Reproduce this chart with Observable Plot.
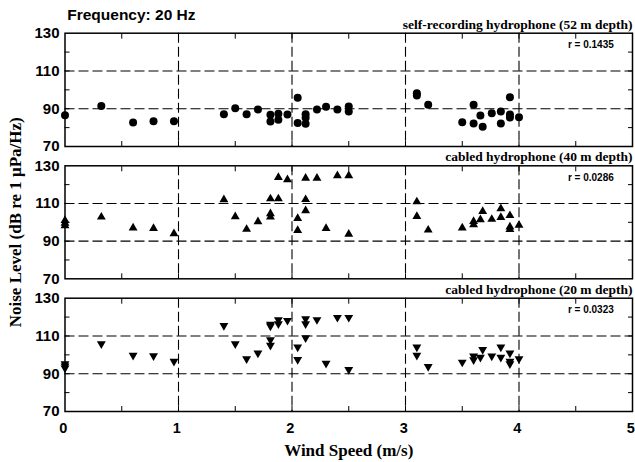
<!DOCTYPE html>
<html><head><meta charset="utf-8">
<script src="https://cdn.jsdelivr.net/npm/d3@7"></script>
<script src="https://cdn.jsdelivr.net/npm/@observablehq/plot@0.6"></script>
<style>
body{margin:0;background:#fff;}
#chart{position:relative;width:635px;height:462px;overflow:hidden;background:#fff;}
#chart svg{position:absolute;left:0;top:0;}
</style></head><body><div id="chart"></div>
<script>
const chartTitle = "Frequency: 20 Hz";
const yLabel = "Noise Level (dB re 1 μPa/Hz)";
const xLabel = "Wind Speed (m/s)";
const panelTitles = ["self-recording hydrophone (52 m depth)", "cabled hydrophone (40 m depth)", "cabled hydrophone (20 m depth)"];
const rLabels = ["r = 0.1435", "r = 0.0286", "r = 0.0323"];
const xTickLabels = [0, 1, 2, 3, 4, 5];
const yTickLabels = [70, 90, 110, 130];
const yMinorTicks = [80, 90, 100, 110, 120];
const xMinorTicks = [0.5, 1, 1.5, 2, 2.5, 3, 3.5, 4, 4.5];
const xGrid = [1, 2, 3, 4];
const yGrid = [90, 110];

// self-recording hydrophone (52 m) – circles
const wind52 = [0, 0.32, 0.60, 0.78, 0.96, 1.40, 1.50, 1.60, 1.70, 1.81, 1.81, 1.88, 1.88, 1.96, 2.05, 2.05, 2.12, 2.12, 2.12, 2.22, 2.30, 2.40, 2.50, 2.50, 3.10, 3.10, 3.20, 3.50, 3.60, 3.60, 3.66, 3.68, 3.76, 3.84, 3.84, 3.92, 3.92, 3.92, 4.00];
const level52 = [86.6, 91.5, 82.7, 83.4, 83.4, 87.1, 90.3, 87.1, 89.6, 86.8, 83.2, 87.3, 84.1, 87.0, 95.8, 82.5, 87.1, 85.2, 82.0, 89.6, 91.0, 89.6, 91.2, 88.5, 98.2, 97.0, 92.1, 82.9, 92.1, 82.2, 86.4, 80.4, 87.6, 88.5, 82.2, 96.1, 86.9, 85.3, 85.5];

// cabled hydrophone (40 m) – up triangles
const wind40 = [0, 0, 0, 0.32, 0.60, 0.78, 0.96, 1.40, 1.50, 1.60, 1.70, 1.81, 1.81, 1.81, 1.88, 1.88, 1.96, 2.05, 2.05, 2.12, 2.12, 2.12, 2.22, 2.30, 2.40, 2.50, 2.50, 3.10, 3.10, 3.20, 3.50, 3.60, 3.60, 3.66, 3.68, 3.76, 3.84, 3.84, 3.92, 3.92, 3.92, 4.00];
const level40 = [101.0, 99.5, 98.2, 102.8, 97.0, 96.8, 94.0, 112.0, 103.0, 96.3, 100.3, 112.5, 104.6, 102.8, 112.5, 123.8, 122.6, 102.1, 95.7, 123.4, 112.1, 106.2, 123.4, 96.8, 124.8, 124.8, 93.7, 110.9, 103.1, 95.9, 97.0, 100.5, 98.8, 101.4, 105.8, 101.6, 107.2, 102.6, 103.6, 97.6, 96.2, 98.5];

// cabled hydrophone (20 m) – down triangles
const wind20 = [0, 0, 0, 0.32, 0.60, 0.78, 0.96, 1.40, 1.50, 1.60, 1.70, 1.81, 1.81, 1.81, 1.81, 1.88, 1.88, 1.96, 2.05, 2.05, 2.12, 2.12, 2.12, 2.22, 2.30, 2.40, 2.50, 2.50, 3.10, 3.10, 3.20, 3.50, 3.60, 3.60, 3.66, 3.68, 3.76, 3.84, 3.84, 3.92, 3.92, 3.92, 4.00];
const level20 = [95.2, 94.0, 93.0, 105.8, 99.7, 99.5, 96.6, 115.5, 105.8, 97.9, 100.9, 116.2, 115.2, 108.0, 105.0, 118.6, 116.4, 118.2, 104.1, 97.5, 119.1, 116.4, 109.0, 118.6, 95.5, 119.8, 119.8, 92.2, 104.1, 99.7, 93.8, 96.1, 99.3, 97.4, 98.7, 102.8, 99.3, 104.1, 98.7, 100.9, 96.6, 95.2, 97.9];

const SANS = "'Liberation Sans', Arial, Helvetica, sans-serif";
const SERIF = "'Liberation Serif', 'Times New Roman', Times, serif";
const W = 635, H = 462;
const frameTops = [32.7, 165.3, 297.7];
const frameBottoms = [146, 278.3, 411];

const panels = [
  {wind: wind52, level: level52, symbol: "circle", r: 4, rotate: 0},
  {wind: wind40, level: level40, symbol: "triangle", r: 3.3, rotate: 0},
  {wind: wind20, level: level20, symbol: "triangle", r: 3.3, rotate: 180}
];

const chart = document.getElementById("chart");

panels.forEach((p, i) => {
  const rows = p.wind.map((w, j) => ({wind: w, level: p.level[j]}));
  const isBottom = i === 2;
  const marks = [
    Plot.ruleX(xGrid, {stroke: "black", strokeWidth: 1.1, strokeDasharray: "10,4"}),
    Plot.ruleY(yGrid, {stroke: "black", strokeWidth: 1.1, strokeDasharray: "10,4"}),
    // inward ticks
    Plot.axisY({anchor: "left", ticks: yMinorTicks, tickSize: 5, dx: 5, fill: "none", stroke: "black", label: null}),
    Plot.axisY({anchor: "right", ticks: yMinorTicks, tickSize: 5, dx: -5, fill: "none", stroke: "black", label: null}),
    Plot.axisX({anchor: "top", ticks: xMinorTicks, tickSize: 5, dy: 5, fill: "none", stroke: "black", label: null}),
    Plot.axisX({anchor: "bottom", ticks: xMinorTicks, tickSize: 5, dy: -5, fill: "none", stroke: "black", label: null}),
    Plot.frame({stroke: "black", strokeWidth: 1.5}),
    // y tick labels
    Plot.axisY({anchor: "left", ticks: yTickLabels, tickSize: 0, tickPadding: 5.5, label: null, tickFormat: d3.format("d"),
      fontSize: 15, fontWeight: "bold", fontFamily: SANS, fill: "black"}),
    Plot.dot(rows, {x: "wind", y: "level", symbol: p.symbol, r: p.r, rotate: p.rotate, fill: "black", stroke: "none"}),
    Plot.text([panelTitles[i]], {text: d => d, frameAnchor: "top-right", lineAnchor: "bottom", textAnchor: "end",
      dy: -4.4, fontFamily: SERIF, fontWeight: "bold", fontSize: 13.5, fill: "black"}),
    Plot.text([rLabels[i]], {text: d => d, frameAnchor: "top-right", lineAnchor: "bottom", textAnchor: "end",
      dx: -18.7, dy: 15, fontFamily: SANS, fontWeight: "bold", fontSize: 10, fill: "black"})
  ];
  if (i === 0) {
    marks.push(Plot.text([chartTitle], {text: d => d, frameAnchor: "top-left", lineAnchor: "bottom", textAnchor: "start",
      dx: 2.2, dy: -13.4, fontFamily: SANS, fontWeight: "bold", fontSize: 15.5, fill: "black"}));
  }
  if (i === 1) {
    marks.push(Plot.text([yLabel], {text: d => d, frameAnchor: "left", rotate: -90, lineAnchor: "bottom", textAnchor: "middle",
      dx: -44.5, fontFamily: SERIF, fontWeight: "bold", fontSize: 17, fill: "black"}));
  }
  if (isBottom) {
    marks.push(Plot.axisX({anchor: "bottom", ticks: xTickLabels, tickSize: 0, tickPadding: 11, label: null, tickFormat: d3.format("d"),
      dx: -1.8, fontSize: 14.5, fontWeight: "bold", fontFamily: SANS, fill: "black"}));
    marks.push(Plot.text([xLabel], {text: d => d, frameAnchor: "bottom", lineAnchor: "bottom", textAnchor: "middle",
      dy: 44, fontFamily: SERIF, fontWeight: "bold", fontSize: 17, fill: "black"}));
  }
  const svg = Plot.plot({
    width: W, height: H,
    marginLeft: 64.5, marginRight: W - 632,
    marginTop: frameTops[i], marginBottom: H - frameBottoms[i],
    x: {domain: [0, 5]},
    y: {domain: [70, 130]},
    style: {background: "none", overflow: "visible"},
    marks
  });
  chart.appendChild(svg);
});
</script></body></html>
